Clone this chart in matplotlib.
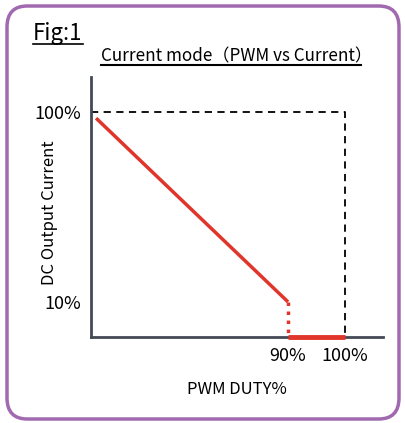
import matplotlib.pyplot as plt
from matplotlib.patches import FancyBboxPatch
from matplotlib.lines import Line2D

plt.rcParams['font.family'] = ['Noto Sans CJK JP', 'DejaVu Sans']

# schematic units (axis is not to scale)
x_ticks = [77.6, 100]
x_labels = ['90%', '100%']
y_ticks = [100, 15.6]
y_labels = ['100%', '10%']

# red current curve
slope_x = [2, 77.6]
slope_y = [97.3, 15.6]
drop_x = [77.6, 77.6]
drop_y = [15.6, 0]
off_x = [77.6, 100]
off_y = [0, 0]

# dashed reference box
ref_x = [0, 100, 100]
ref_y = [100, 100, 0]

fig = plt.figure(figsize=(4.05, 4.23), dpi=100)
W, H = 405, 423

# rounded purple frame
frame = FancyBboxPatch((7 / W, 4 / H), 392 / W, 413 / H,
                       boxstyle="round,pad=0,rounding_size=0.05",
                       transform=fig.transFigure, fill=False,
                       edgecolor='#a069b0', linewidth=2.5)
fig.patches.append(frame)

ax = fig.add_axes([91 / W, 86 / H, 292 / W, 260 / H])
ax.set_xlim(0, 115)
ax.set_ylim(0, 115.6)
for s in ['top', 'right']:
    ax.spines[s].set_visible(False)
for s in ['left', 'bottom']:
    ax.spines[s].set_color('#444955')
    ax.spines[s].set_linewidth(2)

ax.plot(ref_x, ref_y, color='black', linestyle=(0, (4, 3)), linewidth=1.3, clip_on=False)
ax.plot(slope_x, slope_y, color='#e0352b', linewidth=2.5, solid_capstyle='butt')
ax.plot(drop_x, drop_y, color='#e0352b', linewidth=2.5, linestyle=(0, (1, 1.6)))
ax.plot(off_x, off_y, color='#e0352b', linewidth=3.5, solid_capstyle='butt', clip_on=False, zorder=5)

ax.set_xticks(x_ticks)
ax.set_xticklabels(x_labels, fontsize=13)
ax.set_yticks(y_ticks)
ax.set_yticklabels(y_labels, fontsize=13)
ax.tick_params(length=0, pad=7)

ax.set_xlabel('PWM DUTY%', fontsize=12, labelpad=12)
ax.set_ylabel('DC Output Current', fontsize=12)
ax.yaxis.set_label_coords(-0.113, 0.48)

# headings with underlines
fig.text(33 / W, 1 - 40 / H, 'Fig:1', fontsize=16, ha='left', va='baseline')
fig.add_artist(Line2D([33 / W, 83 / W], [1 - 44 / H, 1 - 44 / H], color='black', linewidth=1.2))
fig.text(101 / W, 1 - 61 / H, 'Current mode（PWM vs Current）', fontsize=12.3, ha='left', va='baseline')
fig.add_artist(Line2D([101 / W, 361 / W], [1 - 65 / H, 1 - 65 / H], color='black', linewidth=1.5))

fig.savefig('out.png', dpi=100)
